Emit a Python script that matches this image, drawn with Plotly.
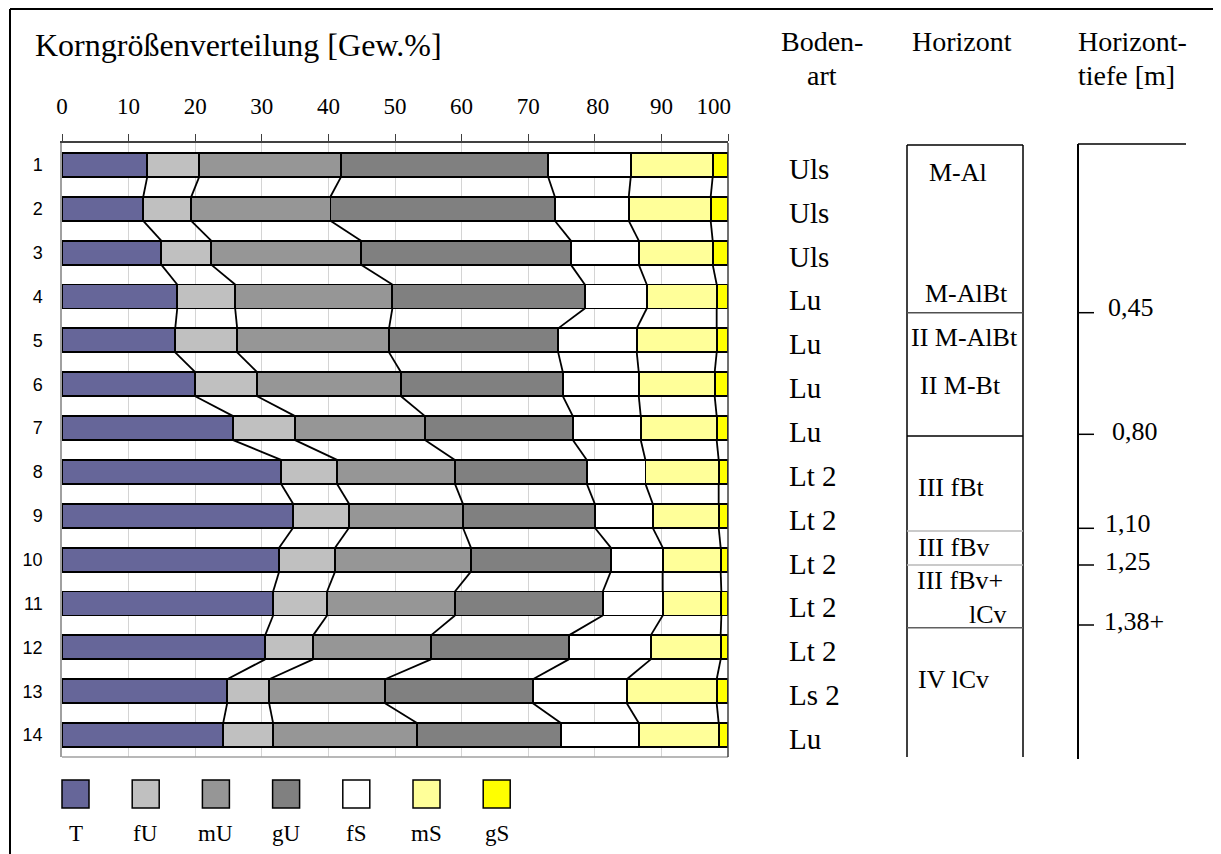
import plotly.graph_objects as go

# ---------------- data ----------------
rows = list(range(1, 15))
T  = [12.8, 12.2, 14.9, 17.3, 17.0, 20.0, 25.7, 32.9, 34.7, 32.6, 31.7, 30.5, 24.8, 24.2]
fU = [7.8, 7.2, 7.5, 8.7, 9.3, 9.3, 9.3, 8.4, 8.4, 8.4, 8.1, 7.2, 6.3, 7.5]
mU = [21.3, 20.9, 22.5, 23.6, 22.8, 21.6, 19.5, 17.7, 17.1, 20.4, 19.2, 17.7, 17.4, 21.6]
gU = [31.1, 33.7, 31.5, 28.9, 25.4, 24.3, 22.2, 19.8, 19.8, 21.0, 22.2, 20.7, 22.2, 21.6]
fS = [12.4, 11.1, 10.2, 9.3, 11.8, 11.4, 10.2, 8.8, 8.7, 7.8, 9.0, 12.3, 14.1, 11.7]
mS = [12.3, 12.3, 11.1, 10.5, 12.0, 11.4, 11.4, 11.0, 9.9, 8.7, 8.8, 10.5, 13.5, 12.0]
gS = [2.3, 2.6, 2.3, 1.7, 1.7, 2.0, 1.7, 1.4, 1.4, 1.1, 1.0, 1.1, 1.7, 1.4]

series_names = ["T", "fU", "mU", "gU", "fS", "mS", "gS"]
series_vals = [T, fU, mU, gU, fS, mS, gS]
colors = ["#666699", "#C0C0C0", "#969696", "#808080", "#FFFFFF", "#FFFF99", "#FFFF00"]

bodenart = ["Uls", "Uls", "Uls", "Lu", "Lu", "Lu", "Lu", "Lt 2", "Lt 2", "Lt 2",
            "Lt 2", "Lt 2", "Ls 2", "Lu"]
x_ticks = [0, 10, 20, 30, 40, 50, 60, 70, 80, 90, 100]
x_ticktext = ["0", "10", "20", "30", "40", "50", "60", "70", "\u00a080", "90",
              "100\u00a0\u00a0\u00a0\u00a0\u00a0"]

horizont_labels = ["M-Al", "M-AlBt", "II M-AlBt", "II M-Bt", "III fBt", "III fBv",
                   "III fBv+", "lCv", "IV lCv"]
depth_labels = ["0,45", "0,80", "1,10", "1,25", "1,38+"]

# ---------------- layout geometry (page pixels) ----------------
W, H = 1221, 854
OFF = 8                      # page body margin
PL, PR, PT, PB = 62, 728, 143, 757
BAR_W = 0.547


def px(x):
    return (x - PL) / (PR - PL)


def py(y):
    return (PB - y) / (PB - PT)


SERIF = "Liberation Serif, Times New Roman, serif"
SANS = "Liberation Sans, Arial, sans-serif"

fig = go.Figure()

for name, vals, col in zip(series_names, series_vals, colors):
    fig.add_trace(go.Bar(
        y=rows, x=vals, name=name, orientation="h", width=BAR_W,
        marker=dict(color=col, line=dict(color="black", width=1.8)),
        showlegend=False, hoverinfo="x+name",
    ))

# series connector lines between bars
cum = []
for i in range(len(rows)):
    s = 0
    c = []
    for vals in series_vals[:-1]:
        s += vals[i]
        c.append(s)
    cum.append(c)

lx, ly = [], []
for k in range(len(series_vals) - 1):
    for i in range(len(rows) - 1):
        lx += [cum[i][k], cum[i + 1][k], None]
        ly += [rows[i] + BAR_W / 2, rows[i + 1] - BAR_W / 2, None]
fig.add_trace(go.Scatter(x=lx, y=ly, mode="lines",
                         line=dict(color="black", width=1.8),
                         showlegend=False, hoverinfo="skip"))

shapes = []
annotations = []

# plot frame edges
shapes.append(dict(type="line", xref="paper", yref="paper", x0=0, x1=1, y0=0, y1=0,
                   line=dict(color="#a0a0a0", width=1.5)))
shapes.append(dict(type="line", xref="paper", yref="paper", x0=1, x1=1, y0=0, y1=1,
                   line=dict(color="#404040", width=1.5)))

# figure border (left, top)
shapes.append(dict(type="line", xref="paper", yref="paper", x0=px(10), x1=px(10),
                   y0=py(9), y1=py(H + 20), line=dict(color="black", width=2)))
shapes.append(dict(type="line", xref="paper", yref="paper", x0=px(10), x1=px(W + 20),
                   y0=py(9), y1=py(9), line=dict(color="black", width=2)))

# title
annotations.append(dict(text="Korngrößenverteilung [Gew.%]", xref="paper", yref="paper",
                        x=px(33), y=py(45), xanchor="left", yanchor="middle",
                        showarrow=False, font=dict(family=SERIF, size=32, color="black")))

# column headers
hdr = dict(xref="paper", yref="paper", showarrow=False, yanchor="middle",
           font=dict(family=SERIF, size=28, color="black"))
annotations.append(dict(text="Boden-", x=px(822), y=py(42), xanchor="center", **hdr))
annotations.append(dict(text="art", x=px(822), y=py(76), xanchor="center", **hdr))
annotations.append(dict(text="Horizont", x=px(962), y=py(42), xanchor="center", **hdr))
annotations.append(dict(text="Horizont-", x=px(1076), y=py(42), xanchor="left", **hdr))
annotations.append(dict(text="tiefe [m]", x=px(1076), y=py(76), xanchor="left", **hdr))

# Bodenart labels
for r, lab in zip(rows, bodenart):
    annotations.append(dict(text=lab, xref="paper", yref="y", x=px(787), y=r + 0.09,
                            xanchor="left", yanchor="middle", showarrow=False,
                            font=dict(family=SERIF, size=29, color="black")))

# Horizont box
HL, HR, HT, HB = 907, 1023, 145, 757
for xx in (HL, HR):
    shapes.append(dict(type="line", xref="paper", yref="paper", x0=px(xx), x1=px(xx),
                       y0=py(HT), y1=py(HB), line=dict(color="black", width=1.5)))
shapes.append(dict(type="line", xref="paper", yref="paper", x0=px(HL), x1=px(HR),
                   y0=py(HT), y1=py(HT), line=dict(color="black", width=1.5)))
for yy, col in [(312.7, "#505050"), (436, "black"), (531, "#b8b8b8"), (565, "#b8b8b8"),
                (627.7, "#606060")]:
    shapes.append(dict(type="line", xref="paper", yref="paper", x0=px(HL), x1=px(HR),
                       y0=py(yy), y1=py(yy), line=dict(color=col, width=1.5)))

hz_pos = [(958, 172, "center"), (966, 293, "center"), (964, 337, "center"),
          (960, 385, "center"), (916, 487, "left"), (916, 547, "left"),
          (915, 580, "left"), (1009, 614, "right"), (916, 679, "left")]
for lab, (xx, yy, anc) in zip(horizont_labels, hz_pos):
    annotations.append(dict(text=lab, xref="paper", yref="paper", x=px(xx), y=py(yy),
                            xanchor=anc, yanchor="middle", showarrow=False,
                            font=dict(family=SERIF, size=26, color="black")))

# depth axis
DX = 1078
shapes.append(dict(type="line", xref="paper", yref="paper", x0=px(DX), x1=px(DX),
                   y0=py(144), y1=py(759), line=dict(color="black", width=2)))
shapes.append(dict(type="line", xref="paper", yref="paper", x0=px(DX), x1=px(1186),
                   y0=py(144), y1=py(144), line=dict(color="black", width=1.5)))
d_ticks = [312.7, 434.3, 528.3, 565, 625]
d_lab_pos = [(1106, 307), (1110, 431), (1103, 523), (1103, 561), (1102, 621)]
for lab, ty, (lxp, lyp) in zip(depth_labels, d_ticks, d_lab_pos):
    shapes.append(dict(type="line", xref="paper", yref="paper", x0=px(DX), x1=px(1094),
                       y0=py(ty), y1=py(ty), line=dict(color="black", width=1.5)))
    annotations.append(dict(text=lab, xref="paper", yref="paper", x=px(lxp), y=py(lyp),
                            xanchor="left", yanchor="middle", showarrow=False,
                            font=dict(family=SERIF, size=26, color="black")))

# legend (squares + labels)
LEG_X0, LEG_STEP, LEG_W = 62, 70.2, 27
for j, (name, col) in enumerate(zip(series_names, colors)):
    x0 = LEG_X0 + j * LEG_STEP
    shapes.append(dict(type="rect", xref="paper", yref="paper", x0=px(x0), x1=px(x0 + LEG_W),
                       y0=py(808), y1=py(780), fillcolor=col,
                       line=dict(color="black", width=1.5)))
    annotations.append(dict(text=name, xref="paper", yref="paper", x=px(x0 + LEG_W / 2),
                            y=py(833), xanchor="center", yanchor="middle", showarrow=False,
                            font=dict(family=SERIF, size=23, color="black")))

fig.update_layout(
    width=W, height=H,
    margin=dict(l=PL - OFF, r=W - PR + OFF, t=PT - OFF, b=H - PB + OFF, pad=0),
    paper_bgcolor="white", plot_bgcolor="white",
    barmode="stack", showlegend=False,
    shapes=shapes, annotations=annotations,
    xaxis=dict(side="top", range=[0, 100], tickvals=x_ticks, ticktext=x_ticktext,
               showgrid=True, gridcolor="#d4d4d4", gridwidth=1.2,
               showline=True, linecolor="#404040", linewidth=2,
               ticks="outside", ticklen=7, tickcolor="#404040", tickwidth=1,
               ticklabelstandoff=11,
               tickfont=dict(family=SERIF, size=23, color="black"),
               zeroline=False, fixedrange=True),
    yaxis=dict(range=[14.5, 0.5], tickvals=rows, ticktext=[str(r) for r in rows],
               showgrid=False, showline=True, linecolor="#a0a0a0", linewidth=1.5,
               ticks="", ticklabelstandoff=14,
               tickfont=dict(family=SANS, size=18, color="black"),
               zeroline=False, fixedrange=True),
)

fig.write_html("out.html")
